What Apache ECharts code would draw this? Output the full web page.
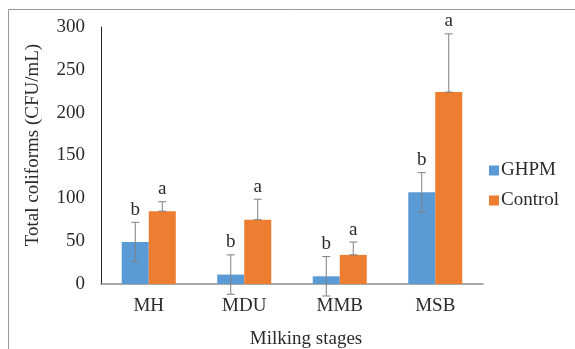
<!DOCTYPE html>
<html><head><meta charset="utf-8">
<script src="https://cdn.jsdelivr.net/npm/echarts@6/dist/echarts.min.js"></script>
<style>html,body{margin:0;padding:0;background:#fff}#c{width:575px;height:349px}</style>
</head><body><div id="c"></div>
<script>
var categories = ["MH", "MDU", "MMB", "MSB"];
var ghpm = [49, 11, 9, 107];
var ghpmErr = [23, 23, 23, 23];
var ghpmLetters = ["b", "b", "b", "b"];
var control = [85, 75, 34, 224];
var controlErr = [11, 24, 15, 68];
var controlLetters = ["a", "a", "a", "a"];
var yTicks = [0, 50, 100, 150, 200, 250, 300];

var FONT = "Liberation Serif";
var TXT = "#2b2b2b";
var FS = 19;
var BW = 27;

function errSeries(name, vals, errs, letters, side, plusOnly) {
  return {
    type: 'custom', name: name + ' err', z: 5, silent: true,
    data: vals.map(function (v, i) { return [i, v, errs[i], letters[i]]; }),
    renderItem: function (params, api) {
      var i = api.value(0), v = api.value(1), e = api.value(2);
      var c = api.coord([i, v]);
      var x = c[0] + side * BW / 2;
      var hi = api.coord([i, v + e])[1];
      var lo = plusOnly ? c[1] : api.coord([i, v - e])[1];
      var st = { stroke: '#7f7f7f', lineWidth: 1 };
      return { type: 'group', children: [
        { type: 'line', shape: { x1: x, y1: hi, x2: x, y2: lo }, style: st },
        { type: 'line', shape: { x1: x - 4, y1: hi, x2: x + 4, y2: hi }, style: st },
        { type: 'line', shape: { x1: x - 4, y1: lo, x2: x + 4, y2: lo }, style: st },
        { type: 'text', x: x, y: hi - 3, style: { text: letters[i], fill: TXT, font: FS + 'px "' + FONT + '"', align: 'center', verticalAlign: 'bottom' } }
      ]};
    }
  };
}

var chart = echarts.init(document.getElementById('c'), null, { renderer: 'canvas' });
chart.setOption({
  animation: false,
  textStyle: { fontFamily: FONT },
  grid: { left: 101, right: 92, top: 27, bottom: 65 },
  legend: {
    orient: 'vertical', left: 484, top: 156, itemWidth: 10, itemHeight: 10, itemGap: 11,
    icon: 'rect', data: ['GHPM', 'Control'],
    textStyle: { fontFamily: FONT, fontSize: FS, color: TXT, padding: [0, 0, 0, -3] }
  },
  xAxis: {
    type: 'category', data: categories,
    axisLine: { lineStyle: { color: '#8c8c8c', width: 1.5 } },
    axisTick: { show: false },
    axisLabel: { fontFamily: FONT, fontSize: FS, color: TXT, margin: 13 }
  },
  yAxis: {
    type: 'value', min: yTicks[0], max: yTicks[yTicks.length - 1], interval: 50,
    axisLine: { show: true, lineStyle: { color: '#222', width: 1 } },
    axisTick: { show: false },
    splitLine: { show: false },
    axisLabel: { fontFamily: FONT, fontSize: FS, color: TXT, margin: 16 }
  },
  series: [
    { name: 'GHPM', type: 'bar', data: ghpm, barWidth: BW, barGap: '0%', itemStyle: { color: '#5B9BD5' } },
    { name: 'Control', type: 'bar', data: control, barWidth: BW, barGap: '0%', itemStyle: { color: '#ED7D31' } },
    errSeries('GHPM', ghpm, ghpmErr, ghpmLetters, -1, false),
    errSeries('Control', control, controlErr, controlLetters, 1, true)
  ],
  graphic: [
    { type: 'polyline', shape: { points: [[8.5, 349], [8.5, 9.5], [575, 9.5]] }, style: { stroke: '#9a9a9a', lineWidth: 1, fill: null } },
    { type: 'text', x: 33, y: 145, rotation: Math.PI / 2, style: { text: 'Total coliforms (CFU/mL)', font: FS + 'px "' + FONT + '"', fill: TXT, align: 'center', verticalAlign: 'middle' } },
    { type: 'text', x: 306, y: 339, style: { text: 'Milking stages', font: FS + 'px "' + FONT + '"', fill: TXT, align: 'center', verticalAlign: 'middle' } }
  ]
});
</script></body></html>
